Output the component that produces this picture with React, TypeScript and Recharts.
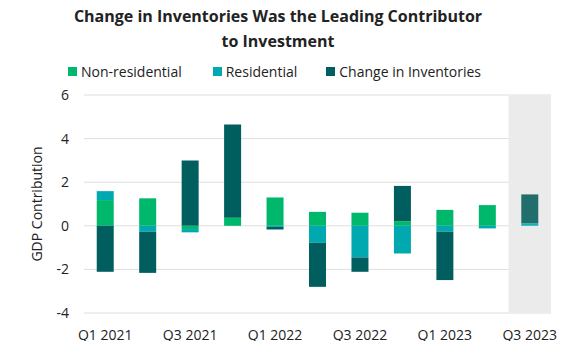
import React from 'react';
import {
  BarChart,
  Bar,
  XAxis,
  YAxis,
  CartesianGrid,
  ReferenceArea,
  Cell,
} from 'recharts';

// Quarterly GDP contribution (pp)
const quarters = [
  'Q1 2021', 'Q2 2021', 'Q3 2021', 'Q4 2021',
  'Q1 2022', 'Q2 2022', 'Q3 2022', 'Q4 2022',
  'Q1 2023', 'Q2 2023', 'Q3 2023',
];
const nonResidential = [1.18, 1.26, -0.15, 0.37, 1.3, 0.64, 0.6, 0.21, 0.73, 0.95, 0];
const residential = [0.41, -0.27, -0.15, 0, -0.05, -0.78, -1.45, -1.27, -0.27, -0.12, 0.12];
const inventories = [-2.11, -1.89, 3.0, 4.28, -0.12, -2.02, -0.66, 1.62, -2.22, 0, 1.32];
const yTicks = [-4, -2, 0, 2, 4, 6];
const forecastQuarter = 'Q3 2023';

const COLORS = {
  nonRes: '#00b86b',
  res: '#00a9b0',
  inv: '#005f5e',
  resForecast: '#1ab0b8',
  invForecast: '#226e6d',
};

const data = quarters.map((q, i) => ({
  quarter: q,
  nonResidential: nonResidential[i],
  residential: residential[i],
  inventories: inventories[i],
}));

const font = '"Open Sans", sans-serif';

export default function App() {
  return (
    <div style={{ position: 'relative', width: 580, height: 349, margin: -8, fontFamily: font, color: '#222' }}>
      <div
        style={{
          position: 'absolute',
          top: 4,
          left: 0,
          width: 556,
          textAlign: 'center',
          fontSize: 16,
          fontWeight: 700,
          lineHeight: '25px',
        }}
      >
        Change in Inventories Was the Leading Contributor
        <br />
        to Investment
      </div>

      {/* legend */}
      <div style={{ position: 'absolute', top: 62, left: 68, fontSize: 14, display: 'flex', alignItems: 'center' }}>
        <span style={{ width: 9, height: 9, background: COLORS.nonRes, marginRight: 4 }} />
        <span style={{ marginRight: 31 }}>Non-residential</span>
        <span style={{ width: 9, height: 9, background: COLORS.res, marginRight: 4 }} />
        <span style={{ marginRight: 29 }}>Residential</span>
        <span style={{ width: 9, height: 9, background: COLORS.inv, marginRight: 4 }} />
        <span>Change in Inventories</span>
      </div>

      <div style={{ position: 'absolute', top: 0, left: 0 }}>
        <BarChart
          width={580}
          height={349}
          data={data}
          stackOffset="sign"
          barCategoryGap="30%"
          margin={{ top: 95, right: 29, left: 0, bottom: 0 }}
        >
          <ReferenceArea
            x1={forecastQuarter}
            x2={forecastQuarter}
            y1={-4}
            y2={6}
            fill="#ebebeb"
            fillOpacity={1}
            stroke="none"
          />
          <CartesianGrid vertical={false} stroke="#dedede" />
          <XAxis
            dataKey="quarter"
            interval={1}
            axisLine={false}
            tickLine={false}
            tickSize={0}
            tickMargin={17}
            height={36}
            tick={{ fontSize: 14, fill: '#222', fontFamily: font }}
          />
          <YAxis
            type="number"
            domain={[-4, 6]}
            ticks={yTicks}
            width={84}
            axisLine={false}
            tickLine={false}
            tickSize={0}
            tickMargin={15}
            tick={{ fontSize: 14, fill: '#222', fontFamily: font }}
            label={{
              value: 'GDP Contribution',
              angle: -90,
              position: 'insideLeft',
              offset: 37,
              style: { fontSize: 14, fill: '#222', fontFamily: font, textAnchor: 'middle' },
            }}
          />
          <Bar dataKey="nonResidential" stackId="a" fill={COLORS.nonRes} isAnimationActive={false} />
          <Bar dataKey="residential" stackId="a" fill={COLORS.res} isAnimationActive={false}>
            {data.map((d) => (
              <Cell key={d.quarter} fill={d.quarter === forecastQuarter ? COLORS.resForecast : COLORS.res} />
            ))}
          </Bar>
          <Bar dataKey="inventories" stackId="a" fill={COLORS.inv} isAnimationActive={false}>
            {data.map((d) => (
              <Cell key={d.quarter} fill={d.quarter === forecastQuarter ? COLORS.invForecast : COLORS.inv} />
            ))}
          </Bar>
        </BarChart>
      </div>
    </div>
  );
}
